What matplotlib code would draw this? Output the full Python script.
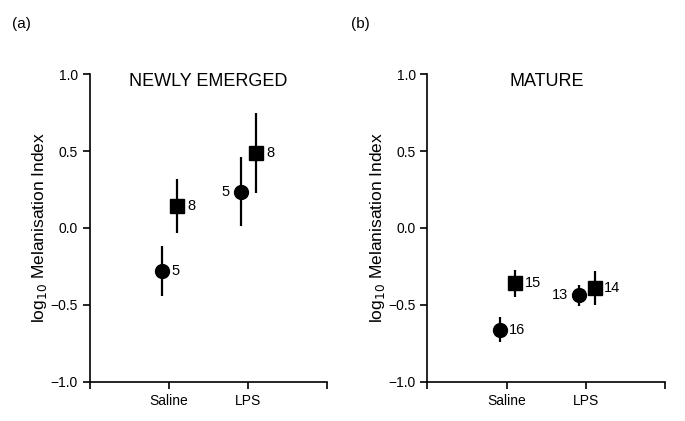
import numpy as np
import matplotlib
matplotlib.use("Agg")
import matplotlib.pyplot as plt

plt.rcParams['font.family'] = ['Liberation Sans', 'DejaVu Sans']

groups = ["Saline", "LPS"]

# panel (a) newly emerged
new_circ = [-0.28, 0.235]
new_circ_lo = [-0.44, 0.01]
new_circ_hi = [-0.12, 0.46]
new_circ_n = ["5", "5"]
new_sq = [0.145, 0.49]
new_sq_lo = [-0.03, 0.23]
new_sq_hi = [0.32, 0.75]
new_sq_n = ["8", "8"]

# panel (b) mature
mat_circ = [-0.66, -0.435]
mat_circ_lo = [-0.74, -0.51]
mat_circ_hi = [-0.58, -0.37]
mat_circ_n = ["16", "13"]
mat_sq = [-0.36, -0.39]
mat_sq_lo = [-0.45, -0.50]
mat_sq_hi = [-0.27, -0.28]
mat_sq_n = ["15", "14"]


def draw_panel(ax, title, circ, circ_lo, circ_hi, circ_n, sq, sq_lo, sq_hi, sq_n, circ_left):
    x = np.arange(1, len(groups) + 1)
    xc = x - 0.09
    xs = x + 0.11
    circ = np.array(circ)
    sq = np.array(sq)
    ax.errorbar(xc, circ, yerr=[circ - np.array(circ_lo), np.array(circ_hi) - circ],
                fmt='o', color='black', ms=10, elinewidth=1.6, capsize=0)
    ax.errorbar(xs, sq, yerr=[sq - np.array(sq_lo), np.array(sq_hi) - sq],
                fmt='s', color='black', ms=9.5, elinewidth=1.6, capsize=0)
    for i in range(len(x)):
        if circ_left[i]:
            ax.annotate(circ_n[i], (xc[i], circ[i]), xytext=(-8, 0), textcoords='offset points',
                        ha='right', va='center', fontsize=10.5)
        else:
            ax.annotate(circ_n[i], (xc[i], circ[i]), xytext=(7, 0), textcoords='offset points',
                        ha='left', va='center', fontsize=10.5)
        ax.annotate(sq_n[i], (xs[i], sq[i]), xytext=(7, 0), textcoords='offset points',
                    ha='left', va='center', fontsize=10.5)

    ax.set_xlim(0, 3)
    ax.set_ylim(-1.0, 1.0)
    ax.set_xticks([0, 1, 2, 3])
    ax.set_xticklabels(["", groups[0], groups[1], ""])
    ax.set_yticks([-1.0, -0.5, 0.0, 0.5, 1.0])
    ax.set_yticklabels(["\u22121.0", "\u22120.5", "0.0", "0.5", "1.0"])
    ax.tick_params(direction='out', length=5, width=1.2, labelsize=10)
    for s in ['top', 'right']:
        ax.spines[s].set_visible(False)
    for s in ['left', 'bottom']:
        ax.spines[s].set_linewidth(1.2)
    ax.set_ylabel("log$_{10}$ Melanisation Index", fontsize=12.5, labelpad=1)
    ax.text(0.5, 0.975, title, transform=ax.transAxes, ha='center', va='center', fontsize=13)


fig = plt.figure(figsize=(6.85, 4.21), dpi=100)
ax1 = fig.add_axes([0.131, 0.093, 0.346, 0.731])
ax2 = fig.add_axes([0.624, 0.093, 0.347, 0.731])

draw_panel(ax1, "NEWLY EMERGED", new_circ, new_circ_lo, new_circ_hi, new_circ_n,
           new_sq, new_sq_lo, new_sq_hi, new_sq_n, [False, True])
draw_panel(ax2, "MATURE", mat_circ, mat_circ_lo, mat_circ_hi, mat_circ_n,
           mat_sq, mat_sq_lo, mat_sq_hi, mat_sq_n, [False, True])

fig.text(0.018, 0.942, "(a)", fontsize=11, va='center')
fig.text(0.513, 0.942, "(b)", fontsize=11, va='center')

fig.savefig("out.png", dpi=100)
